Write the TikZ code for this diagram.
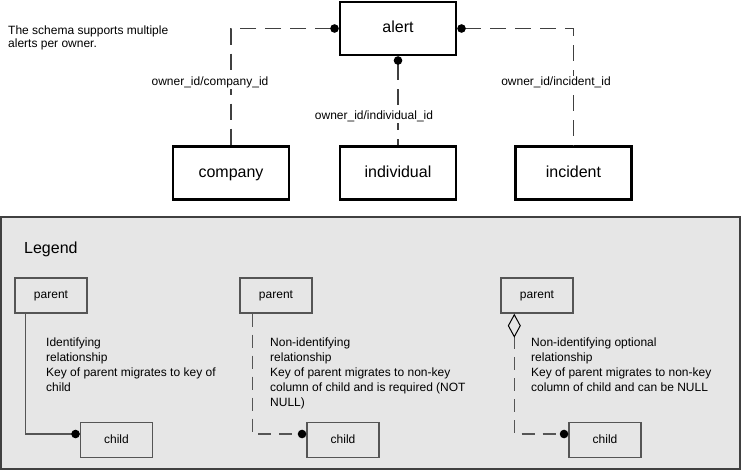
\documentclass[tikz,border=0pt]{standalone}
\usepackage{fontspec}
\setmainfont{Liberation Sans}
\usetikzlibrary{arrows.meta}
\definecolor{linegray}{HTML}{404040}
\definecolor{boxgray}{HTML}{555555}
\definecolor{legendfill}{HTML}{E6E6E6}
\tikzset{
  entity/.style={draw=black, line width=2.5pt, fill=white, inner sep=0pt,
    minimum width=116pt, minimum height=53pt, text height=11.5pt, text depth=3.5pt,
    font=\fontsize{16}{19}\selectfont},
  sample/.style={draw=boxgray, line width=1.4pt, fill=legendfill, inner sep=0pt,
    minimum width=72pt, minimum height=35pt, text height=8.8pt, text depth=2.6pt,
    font=\fontsize{12}{14}\selectfont},
  rolename/.style={fill=white, inner sep=1pt, font=\fontsize{12}{14}\selectfont},
  remark/.style={anchor=north west, align=left, inner sep=0pt},
  nonident/.style={draw=linegray, line width=1.5pt, dash pattern=on 16pt off 9pt},
  legline/.style={draw=boxgray, line width=1.4pt},
  dot/.style={-{Circle[length=8.5pt, color=black]}},
}
\begin{document}
\begin{tikzpicture}[x=1pt, y=-1pt]
    \useasboundingbox (0,0) rectangle (741,471);
        % main schema
        \node [remark, font=\fontsize{12}{13.5}\selectfont] (note) at (8,25.5)
            {The schema supports multiple\\alerts per owner.};
        \node [entity] (alert) at (398,28.5) {alert};
        \node [entity] (company) at (231,173) {company};
        \node [entity] (individual) at (398,173) {individual};
        \node [entity] (incident) at (573.5,173) {incident};
        \draw[nonident, {Circle[length=8.5pt, color=black]}-] (alert.west) -| (company.north);
        \draw[nonident, {Circle[length=8.5pt, color=black]}-] (alert.south) -- (individual.north);
        \draw[nonident, {Circle[length=8.5pt, color=black]}-] (alert.east) -| (incident.north);
        \node [rolename] (lcompany) at (210,82.5) {owner\_id/company\_id};
        \node [rolename] (lindividual) at (374,116.5) {owner\_id/individual\_id};
        \node [rolename] (lincident) at (556,82.5) {owner\_id/incident\_id};
        % legend
        \draw[draw=linegray, line width=1.3pt, fill=legendfill] (1,217) rectangle (740,469);
        \node [anchor=base west, inner sep=0pt, font=\fontsize{16}{19}\selectfont] (legend) at (24,253) {Legend};
        \node [sample] (parent1) at (51,295.5) {parent};
        \node [sample] (child1) at (116.5,440) {child};
        \node [sample] (parent2) at (276,295.5) {parent};
        \node [sample] (child2) at (343,440) {child};
        \node [sample] (parent3) at (537,295.5) {parent};
        \node [sample] (child3) at (605,440) {child};
        \draw[legline, dot] ([xshift=11pt]parent1.south west) |- ([yshift=6pt]child1.west);
        \draw[legline, dot, dash pattern=on 13pt off 8pt] ([xshift=13pt]parent2.south west) |- ([yshift=6pt]child2.west);
        \draw[legline, {Diamond[open, length=24pt, width=13pt, color=black, line width=1pt]}-{Circle[length=8.5pt, color=black]},
            dash pattern=on 13pt off 8pt] ([xshift=14pt]parent3.south west) |- ([yshift=6pt]child3.west);
        \begin{scope}[font=\fontsize{12}{15}\selectfont]
        \node [remark] (text1) at (46,337.5) {Identifying\\relationship\\Key of parent migrates to key of\\child};
        \node [remark] (text2) at (270,337.5) {Non-identifying\\relationship\\Key of parent migrates to non-key\\column of child and is required (NOT\\NULL)};
        \node [remark] (text3) at (531,337.5) {Non-identifying optional\\relationship\\Key of parent migrates to non-key\\column of child and can be NULL};
        \end{scope}
    \end{tikzpicture}
\end{document}
